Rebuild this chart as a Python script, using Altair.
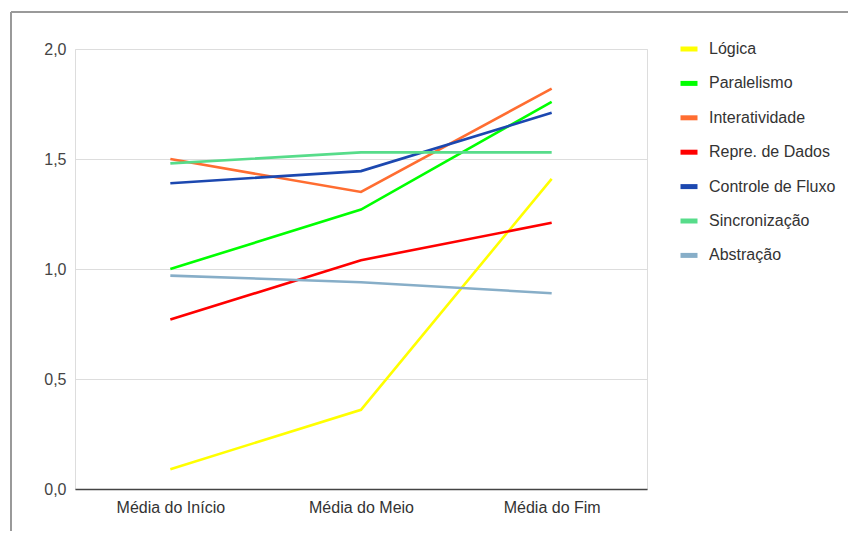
import altair as alt
import pandas as pd

periods = ["Média do Início", "Média do Meio", "Média do Fim"]
series = ["Lógica", "Paralelismo", "Interatividade", "Repre. de Dados",
          "Controle de Fluxo", "Sincronização", "Abstração"]
logica = [0.09, 0.36, 1.41]
paralelismo = [1.00, 1.27, 1.76]
interatividade = [1.50, 1.35, 1.82]
repre_dados = [0.77, 1.04, 1.21]
controle_fluxo = [1.39, 1.445, 1.71]
sincronizacao = [1.48, 1.53, 1.53]
abstracao = [0.97, 0.94, 0.89]
colors = ["#ffff00", "#00ff00", "#ff6d31", "#ff0000", "#1c48b0", "#57dc8a", "#87aec8"]
y_ticks = [0, 0.5, 1.0, 1.5, 2.0]

values = [logica, paralelismo, interatividade, repre_dados,
          controle_fluxo, sincronizacao, abstracao]
rows = []
for s, vals in zip(series, values):
    for p, v in zip(periods, vals):
        rows.append({"serie": s, "periodo": p, "valor": v})
df = pd.DataFrame(rows)

FONT = "Liberation Sans"

lines = alt.Chart(df).mark_line(strokeWidth=2.6).encode(
    x=alt.X("periodo:N", sort=periods, title=None,
            scale=alt.Scale(type="point", padding=0.5),
            axis=alt.Axis(labelAngle=0, labelFontSize=16, labelColor="#333333",
                          labelFont=FONT, ticks=False, labelPadding=10,
                          domainColor="#444444", domainWidth=1.5, grid=False)),
    y=alt.Y("valor:Q", title=None,
            scale=alt.Scale(domain=[0, 2], nice=False),
            axis=alt.Axis(values=y_ticks, labelFontSize=16, labelColor="#444444",
                          labelFont=FONT, ticks=False, domain=False, labelPadding=9,
                          gridColor="#dddddd", gridWidth=1,
                          labelExpr="replace(format(datum.value, '.1f'), '.', ',')")),
    color=alt.Color("serie:N", sort=series, title=None,
                    scale=alt.Scale(domain=series, range=colors),
                    legend=alt.Legend(orient="none", legendX=603, legendY=-11,
                                      symbolType="stroke", symbolStrokeWidth=5,
                                      symbolSize=289, labelFontSize=16,
                                      labelFont=FONT, labelColor="#333333",
                                      rowPadding=13.4, labelOffset=9)),
    detail="serie:N",
)

frame = alt.Chart(df).mark_rule(color="#9a9a9a", strokeWidth=1.2).encode(
    x=alt.value(-64), x2=alt.value(800), y=alt.value(-37))
frame_left = alt.Chart(df).mark_rule(color="#9a9a9a", strokeWidth=1.2).encode(
    x=alt.value(-64), y=alt.value(-37), y2=alt.value(560))

chart = alt.layer(frame, frame_left, lines).properties(
    width=572, height=440,
    autosize=alt.AutoSizeParams(type="none"),
    padding={"left": 67, "top": 41, "right": 201, "bottom": 42},
).configure_view(stroke=None).configure(background="white")

chart.save("out.html", embed_options={"renderer": "svg", "actions": False})
